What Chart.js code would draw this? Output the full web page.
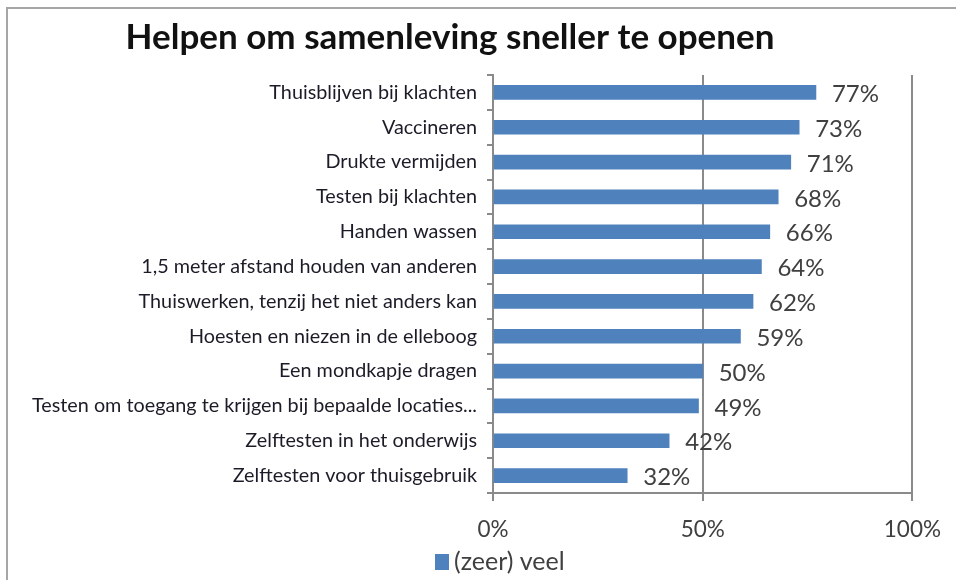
<!DOCTYPE html>
<html>
<head>
<meta charset="utf-8">
<script src="https://cdn.jsdelivr.net/npm/chart.js@4.4.1/dist/chart.umd.min.js"></script>
<style>
html,body{margin:0;padding:0;background:#fff;}
#wrap{position:relative;width:956px;height:580px;}
</style>
</head>
<body>
<div id="wrap"><canvas id="c" width="956" height="580"></canvas></div>
<script>
const chartTitle = "Helpen om samenleving sneller te openen";
const categories = [
  "Thuisblijven bij klachten",
  "Vaccineren",
  "Drukte vermijden",
  "Testen bij klachten",
  "Handen wassen",
  "1,5 meter afstand houden van anderen",
  "Thuiswerken, tenzij het niet anders kan",
  "Hoesten en niezen in de elleboog",
  "Een mondkapje dragen",
  "Testen om toegang te krijgen bij bepaalde locaties...",
  "Zelftesten in het onderwijs",
  "Zelftesten voor thuisgebruik"
];
const seriesName = "(zeer) veel";
const values = [77, 73, 71, 68, 66, 64, 62, 59, 50, 49, 42, 32];
const xTicks = [0, 50, 100];

const BAR = "#4F81BD";
const GRID = "#8a8a8a";
const FONT = "Lato, 'Open Sans', sans-serif";

const decor = {
  id: "decor",
  beforeDraw(chart) {
    const ctx = chart.ctx;
    ctx.save();
    ctx.fillStyle = "#fff";
    ctx.fillRect(0, 0, chart.width, chart.height);
    ctx.strokeStyle = "#a6a6a6";
    ctx.lineWidth = 2;
    ctx.beginPath();
    ctx.moveTo(7, 580);
    ctx.lineTo(7, 8);
    ctx.lineTo(956, 8);
    ctx.stroke();
    ctx.restore();
  },
  afterDraw(chart) {
    const ctx = chart.ctx;
    ctx.save();
    // title
    ctx.fillStyle = "#111";
    ctx.font = "bold 35px " + FONT;
    ctx.textAlign = "center";
    ctx.textBaseline = "middle";
    ctx.fillText(chartTitle, 450, 38);
    // legend
    ctx.fillStyle = BAR;
    ctx.fillRect(435, 554, 14, 16);
    ctx.fillStyle = "#404040";
    ctx.font = "25px " + FONT;
    ctx.textAlign = "left";
    ctx.fillText(chart.data.datasets[0].label, 454, 562);
    ctx.restore();
  },
  afterDatasetsDraw(chart) {
    const ctx = chart.ctx;
    const meta = chart.getDatasetMeta(0);
    const ds = chart.data.datasets[0];
    ctx.save();
    ctx.fillStyle = "#404040";
    ctx.font = "24px " + FONT;
    ctx.textAlign = "left";
    ctx.textBaseline = "middle";
    meta.data.forEach((bar, i) => {
      ctx.fillText(ds.data[i] + "%", bar.x + 16, bar.y + 2);
    });
    ctx.restore();
  }
};

new Chart(document.getElementById("c"), {
  type: "bar",
  data: {
    labels: categories,
    datasets: [{
      label: seriesName,
      data: values,
      backgroundColor: BAR,
      borderWidth: 0,
      barThickness: 14
    }]
  },
  options: {
    indexAxis: "y",
    responsive: false,
    animation: false,
    events: [],
    layout: { padding: { top: 75, right: 39, bottom: 0, left: 0 } },
    plugins: {
      legend: { display: false },
      title: { display: false },
      tooltip: { enabled: false }
    },
    scales: {
      x: {
        min: 0,
        max: 100,
        afterFit(scale) { scale.height = 87; },
        afterBuildTicks(scale) { scale.ticks = xTicks.map(v => ({ value: v })); },
        ticks: {
          padding: 15,
          color: "#404040",
          font: { family: FONT, size: 22.5 },
          callback: v => v + "%"
        },
        grid: {
          color: GRID,
          lineWidth: 2,
          tickLength: 8,
          drawOnChartArea: true
        },
        border: { color: GRID, width: 2 }
      },
      y: {
        afterFit(scale) { scale.width = 493; },
        ticks: {
          padding: 10,
          color: "#1c1c28",
          font: { family: FONT, size: 19.8 },
          autoSkip: false
        },
        grid: {
          color: GRID,
          lineWidth: 2,
          tickLength: 6,
          drawOnChartArea: false,
          offset: true
        },
        border: { color: GRID, width: 2 }
      }
    }
  },
  plugins: [decor]
});
</script>
</body>
</html>
